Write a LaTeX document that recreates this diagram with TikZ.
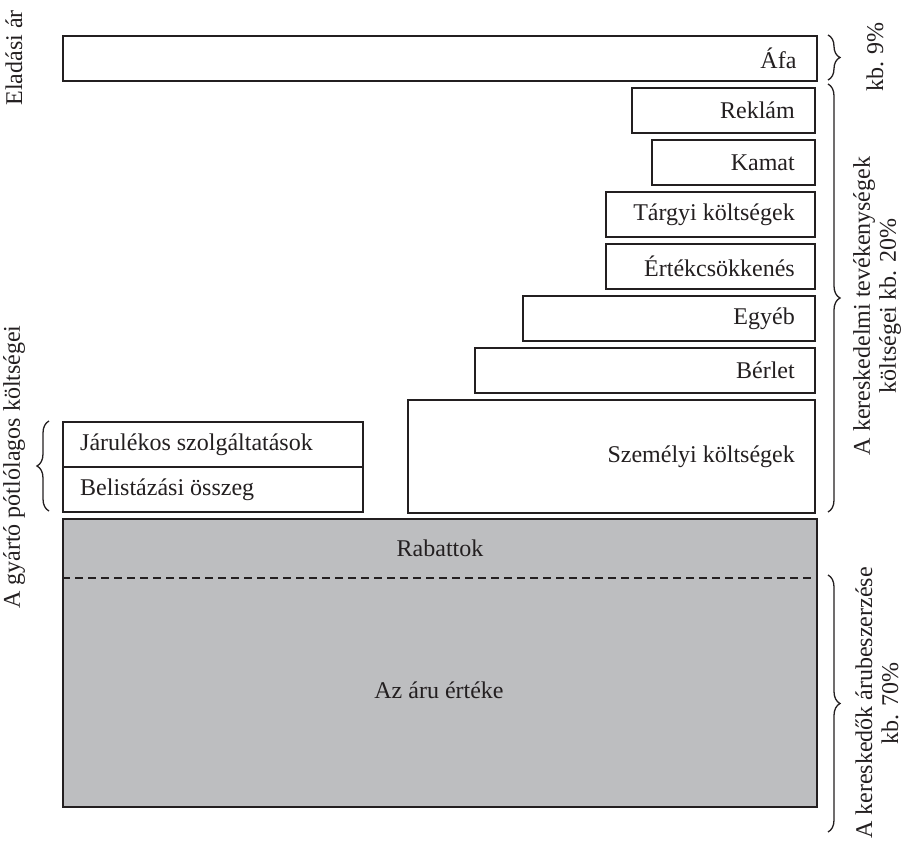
\documentclass[tikz,border=0pt]{standalone}
\usepackage{fontspec}
\setmainfont{Liberation Serif}
\usetikzlibrary{decorations.pathreplacing}
\definecolor{boxgray}{RGB}{189,190,192}
\definecolor{ink}{RGB}{35,31,32}
\begin{document}
\begin{tikzpicture}[x=1pt,y=-1pt,
  box/.style={draw=ink, line width=1.6pt, inner sep=0pt, fill=white},
  lbl/.style={inner sep=0pt, text=ink, font=\fontsize{24}{26}\selectfont},
  brc/.style={draw=ink, line width=1.3pt, decorate, decoration={brace, amplitude=12pt}},
  ]
\useasboundingbox (0,0) rectangle (907,845);
% top boxes
\node[box, anchor=north west, minimum width=754pt, minimum height=45pt] (afa) at (62,35) {};
\node[box, anchor=north east, minimum width=183pt, minimum height=45pt] (reklam) at (816,87) {};
\node[box, anchor=north east, minimum width=163pt, minimum height=45pt] (kamat) at (816,139) {};
\node[box, anchor=north east, minimum width=209pt, minimum height=45pt] (targyi) at (816,191) {};
\node[box, anchor=north east, minimum width=209pt, minimum height=45pt] (ertek) at (816,243) {};
\node[box, anchor=north east, minimum width=292pt, minimum height=45pt] (egyeb) at (816,295) {};
\node[box, anchor=north east, minimum width=340pt, minimum height=45pt] (berlet) at (816,347) {};
\node[box, anchor=north east, minimum width=407pt, minimum height=113pt] (szem) at (816,399) {};
\node[box, anchor=north west, minimum width=300pt, minimum height=45pt] (jarul) at (62,421) {};
\node[box, anchor=north west, minimum width=300pt, minimum height=45pt] (belist) at (62,466) {};
\node[box, fill=boxgray, anchor=north west, minimum width=754pt, minimum height=288pt] (aru) at (62,518) {};
% texts in boxes
\node[lbl, anchor=east] (tafa) at ([xshift=-21pt]afa.east) {Áfa};
\node[lbl, anchor=east] (treklam) at ([xshift=-21pt]reklam.east) {Reklám};
\node[lbl, anchor=east] (tkamat) at ([xshift=-21pt]kamat.east) {Kamat};
\node[lbl, anchor=east] (ttargyi) at ([xshift=-21pt]targyi.east) {Tárgyi költségek};
\node[lbl, anchor=east] (tertek) at ([xshift=-21pt]ertek.east) {Értékcsökkenés};
\node[lbl, anchor=east] (tegyeb) at ([xshift=-21pt]egyeb.east) {Egyéb};
\node[lbl, anchor=east] (tberlet) at ([xshift=-21pt]berlet.east) {Bérlet};
\node[lbl, anchor=east] (tszem) at ([xshift=-21pt]szem.east) {Személyi költségek};
\node[lbl, anchor=west] (tjarul) at ([xshift=18pt]jarul.west) {Járulékos szolgáltatások};
\node[lbl, anchor=west] (tbelist) at ([xshift=18pt]belist.west) {Belistázási összeg};
\node[lbl] (trab) at (440,548) {Rabattok};
\node[lbl] (taru) at (439,690) {Az áru értéke};
% dashed divider
\coordinate (dl) at (aru.west |- 0,578);
\coordinate (dr) at (aru.east |- 0,578);
\draw[ink, line width=1.3pt, dash pattern=on 8pt off 5pt] (dl) -- (dr);
% braces
\coordinate (b1a) at (828,35);  \coordinate (b1b) at (828,80);
\coordinate (b2a) at (828,84);  \coordinate (b2b) at (828,512);
\coordinate (b3a) at (828,575); \coordinate (b3b) at (828,832);
\coordinate (b4a) at (49,511);  \coordinate (b4b) at (49,421);
\draw[brc] (b1a) -- (b1b);
\draw[brc] (b2a) -- (b2b);
\draw[brc] (b3a) -- (b3b);
\draw[brc] (b4a) -- (b4b);
% rotated side labels
\node[lbl, rotate=90] (elad) at (14,58) {Eladási ár};
\node[lbl, rotate=90] (gyarto) at (14,467) {A gyártó pótlólagos költségei};
\node[lbl, rotate=90] (kb9) at (875,57) {kb. 9\%};
\node[lbl, rotate=90, align=center] (keresk) at (877,306) {A kereskedelmi tevékenységek\\költségei kb. 20\%};
\node[lbl, rotate=90, align=center] (arub) at (877,703) {A kereskedők árubeszerzése\\kb. 70\%};
\end{tikzpicture}
\end{document}
